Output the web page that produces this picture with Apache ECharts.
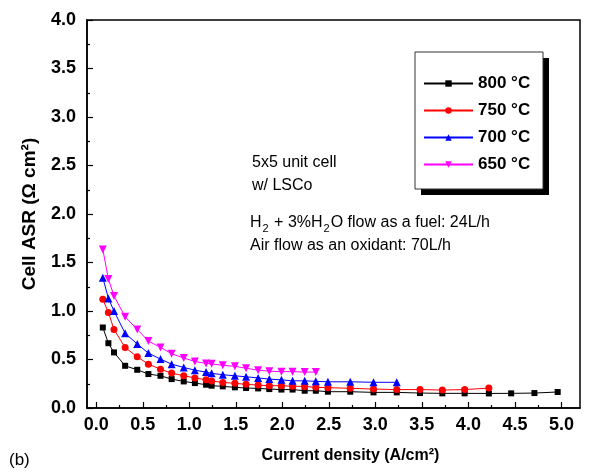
<!DOCTYPE html>
<html>
<head>
<meta charset="utf-8">
<script src="https://cdn.jsdelivr.net/npm/echarts@6/dist/echarts.min.js"></script>
<style>
  html, body { margin: 0; padding: 0; background: #fff; }
  #main { width: 615px; height: 476px; }
</style>
</head>
<body>
<div id="main"></div>
<script>
// current density (A/cm2) for each measured point
var current = [0.07, 0.13, 0.19, 0.31, 0.44, 0.56, 0.69, 0.81, 0.94, 1.06, 1.18, 1.24, 1.36, 1.49, 1.61, 1.74,
    1.86, 1.99, 2.11, 2.24, 2.36, 2.49, 2.73, 2.98, 3.23, 3.48, 3.72, 3.96, 4.22, 4.46, 4.71, 4.96];

// cell ASR (ohm cm2) per temperature
var asr800 = [0.83, 0.668, 0.573, 0.435, 0.394, 0.35, 0.332, 0.298, 0.274, 0.257, 0.24, 0.23, 0.223, 0.213, 0.206, 0.202,
    0.195, 0.19, 0.19, 0.178, 0.178, 0.168, 0.168, 0.161, 0.161, 0.154, 0.151, 0.151, 0.15, 0.151, 0.154, 0.165];
var asr750 = [1.12, 0.984, 0.81, 0.624, 0.528, 0.452, 0.40, 0.36, 0.332, 0.31, 0.29, 0.278, 0.264, 0.254, 0.244, 0.236,
    0.23, 0.23, 0.225, 0.222, 0.213, 0.21, 0.203, 0.195, 0.19, 0.19, 0.185, 0.19, 0.205];
var asr700 = [1.344, 1.13, 1.0, 0.77, 0.66, 0.566, 0.504, 0.452, 0.418, 0.39, 0.37, 0.357, 0.343, 0.332, 0.322, 0.31,
    0.298, 0.29, 0.28, 0.28, 0.275, 0.27, 0.27, 0.265, 0.265];
var asr650 = [1.635, 1.33, 1.155, 0.94, 0.81, 0.69, 0.625, 0.56, 0.515, 0.48, 0.46, 0.455, 0.44, 0.43, 0.41, 0.39,
    0.38, 0.375, 0.375, 0.37, 0.37];

var seriesNames = ['800 °C', '750 °C', '700 °C', '650 °C'];
var xTicks = [0, 0.5, 1.0, 1.5, 2.0, 2.5, 3.0, 3.5, 4.0, 4.5, 5.0];
var xMinorTicks = [0.25, 0.75, 1.25, 1.75, 2.25, 2.75, 3.25, 3.75, 4.25, 4.75];

function pairs(ys) {
    return ys.map(function (v, i) { return [current[i], v]; });
}

var font = 'Arial, "Liberation Sans", Helvetica, sans-serif';
var chart = echarts.init(document.getElementById('main'), null, {renderer: 'canvas'});

function mkSeries(name, ys, color, symbol, size, rotate) {
    return {
        name: name,
        type: 'line',
        data: pairs(ys),
        symbol: symbol,
        symbolSize: size,
        symbolRotate: rotate || 0,
        showAllSymbol: true,
        lineStyle: {color: color, width: 1},
        itemStyle: {color: color},
        emphasis: {disabled: true}
    };
}

var option = {
    animation: false,
    backgroundColor: '#fff',
    grid: {
        left: 87, right: 35, top: 20, bottom: 68,
        show: true, borderColor: '#000', borderWidth: 1.5,
        outerBoundsMode: 'none'
    },
    legend: {
        orient: 'vertical',
        left: 423, top: 75, padding: 0,
        itemWidth: 49, itemHeight: 8, itemGap: 10,
        data: seriesNames,
        selectedMode: false,
        textStyle: {fontFamily: font, fontSize: 17, fontWeight: 'bold', color: '#000', lineHeight: 17}
    },
    xAxis: [{
        type: 'value',
        min: -0.1, max: 5.2,
        name: 'Current density (A/cm²)',
        nameLocation: 'middle', nameGap: 40, nameMoveOverlap: false,
        nameTextStyle: {fontFamily: font, fontSize: 16, fontWeight: 'bold', color: '#000', padding: [0, 0, 0, 34]},
        axisLine: {show: true, onZero: false, lineStyle: {color: '#000', width: 1.5}},
        axisTick: {show: true, inside: true, length: 6, customValues: xTicks, lineStyle: {color: '#000', width: 1.2}},
        axisLabel: {customValues: xTicks, fontFamily: font, fontSize: 18, fontWeight: 'bold', color: '#000', margin: 8,
            formatter: function (v) { return v.toFixed(1); }},
        splitLine: {show: false}
    }, {
        type: 'value',
        min: -0.1, max: 5.2,
        position: 'bottom',
        axisLine: {show: false, onZero: false},
        axisTick: {show: true, inside: true, length: 3, customValues: xMinorTicks, lineStyle: {color: '#000', width: 1.2}},
        axisLabel: {show: false},
        splitLine: {show: false}
    }],
    yAxis: {
        type: 'value',
        min: 0, max: 4, interval: 0.5,
        name: 'Cell ASR (Ω cm²)',
        nameLocation: 'middle', nameGap: 48, nameMoveOverlap: false,
        nameTextStyle: {fontFamily: font, fontSize: 19, fontWeight: 'bold', color: '#000'},
        axisLine: {show: true, onZero: false, lineStyle: {color: '#000', width: 1.5}},
        axisTick: {show: true, inside: true, length: 6, lineStyle: {color: '#000', width: 1.2}},
        minorTick: {show: true, splitNumber: 2, length: 3, lineStyle: {color: '#000', width: 1.2}},
        axisLabel: {fontFamily: font, fontSize: 18, fontWeight: 'bold', color: '#000', margin: 11,
            formatter: function (v) { return v.toFixed(1); }},
        splitLine: {show: false}
    },
    graphic: [
        // legend frame with black drop shadow
        {type: 'rect', z: 1, shape: {x: 421, y: 58, width: 128, height: 137}, style: {fill: '#000'}},
        {type: 'rect', z: 2, shape: {x: 415, y: 52, width: 128, height: 137}, style: {fill: '#fff', stroke: '#333', lineWidth: 1}},
        {type: 'text', z: 5, x: 252, y: 163, style: {text: '5x5 unit cell', fontFamily: font, fontSize: 16, fill: '#000', verticalAlign: 'middle'}},
        {type: 'text', z: 5, x: 252, y: 186, style: {text: 'w/ LSCo', fontFamily: font, fontSize: 16, fill: '#000', verticalAlign: 'middle'}},
        {type: 'text', z: 5, x: 250, y: 223, style: {
            text: 'H{s|2} + 3%H{s|2}O flow as a fuel: 24L/h',
            fontFamily: font, fontSize: 16, fill: '#000', verticalAlign: 'middle',
            rich: {s: {fontFamily: font, fontSize: 11, fill: '#000', padding: [12, 1, 0, 1]}}
        }},
        {type: 'text', z: 5, x: 250, y: 246, style: {text: 'Air flow as an oxidant: 70L/h', fontFamily: font, fontSize: 16, fill: '#000', verticalAlign: 'middle'}},
        {type: 'text', z: 5, x: 9, y: 460, style: {text: '(b)', fontFamily: font, fontSize: 17, fill: '#000', verticalAlign: 'middle'}}
    ],
    series: [
        mkSeries(seriesNames[0], asr800, '#000000', 'rect', 6),
        mkSeries(seriesNames[1], asr750, '#ff0000', 'circle', 7),
        mkSeries(seriesNames[2], asr700, '#0000ff', 'triangle', 8),
        mkSeries(seriesNames[3], asr650, '#ff00ff', 'triangle', 8, 180)
    ]
};
chart.setOption(option);
</script>
</body>
</html>
